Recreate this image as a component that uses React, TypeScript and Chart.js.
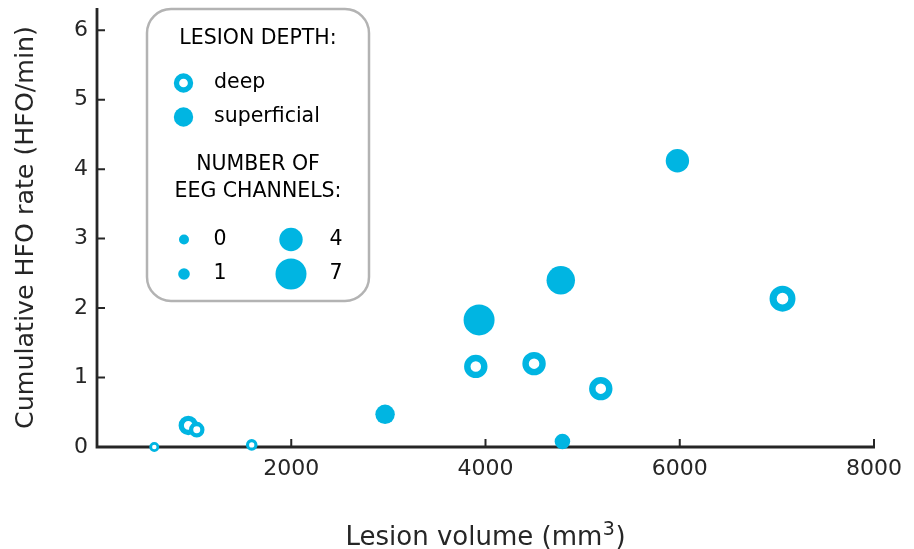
import React, { useEffect, useRef } from 'react';
import { Chart, registerables } from 'chart.js';

Chart.register(...registerables);

// ---- data ----
const lesionVolume = [590, 940, 1027, 1593, 2966, 3900, 3934, 4500, 4775, 4792, 5187, 5976, 7058];
const hfoRate = [0.0, 0.31, 0.25, 0.03, 0.47, 1.16, 1.83, 1.2, 2.4, 0.08, 0.84, 4.12, 2.135];
const eegChannels = [0, 3, 2, 1, 3, 4, 7, 4, 6, 2, 4, 4, 5];
const lesionDepth = [
  'deep', 'deep', 'deep', 'deep', 'superficial', 'deep', 'superficial',
  'deep', 'superficial', 'superficial', 'deep', 'superficial', 'deep',
];
const depthCategories = ['deep', 'superficial'];
const channelLegendValues = [0, 1, 4, 7];
const xTickValues = [2000, 4000, 6000, 8000];
const yTickValues = [0, 1, 2, 3, 4, 5, 6];

const xTitleParts = ['Lesion volume (mm', '3', ')']; // middle part is a superscript
const yTitle = 'Cumulative HFO rate (HFO/min)';
const depthLegendTitle = 'LESION DEPTH:';
const channelLegendTitle = ['NUMBER OF', 'EEG CHANNELS:'];

// ---- style ----
const BLUE = '#00b5e2';
const AXIS = '#262626';
const TEXT = '#000000';
const FONT = "'DejaVu Sans', sans-serif";

const sizeAnchorN = [0, 1, 4, 7];
const sizeAnchorR = [5, 5.8, 11.7, 15.5];
function radiusFor(n: number): number {
  for (let i = 0; i < sizeAnchorN.length - 1; i++) {
    const a = sizeAnchorN[i], b = sizeAnchorN[i + 1];
    if (n <= b) {
      const t = (n - a) / (b - a);
      return sizeAnchorR[i] + t * (sizeAnchorR[i + 1] - sizeAnchorR[i]);
    }
  }
  return sizeAnchorR[sizeAnchorR.length - 1];
}
const RING = 0.55;

function drawMarker(ctx: CanvasRenderingContext2D, x: number, y: number, R: number, deep: boolean) {
  ctx.beginPath();
  if (deep) {
    const bw = RING * R;
    ctx.arc(x, y, R - bw / 2, 0, Math.PI * 2);
    ctx.fillStyle = '#ffffff';
    ctx.fill();
    ctx.lineWidth = bw;
    ctx.strokeStyle = BLUE;
    ctx.stroke();
  } else {
    ctx.arc(x, y, R, 0, Math.PI * 2);
    ctx.fillStyle = BLUE;
    ctx.fill();
  }
}

const axesPlugin = {
  id: 'customAxes',
  beforeDatasetsDraw(chart: any) {
    const { ctx, chartArea, scales } = chart;
    const { left, right, top, bottom } = chartArea;
    ctx.save();
    ctx.strokeStyle = AXIS;
    ctx.lineWidth = 2.8;
    ctx.beginPath();
    ctx.moveTo(left, top);
    ctx.lineTo(left, bottom);
    ctx.lineTo(right + 1, bottom);
    ctx.stroke();
    ctx.lineWidth = 2;
    ctx.beginPath();
    scales.x.ticks.forEach((t: any) => {
      const px = scales.x.getPixelForValue(t.value);
      ctx.moveTo(px, bottom);
      ctx.lineTo(px, bottom - 8);
    });
    scales.y.ticks.forEach((t: any) => {
      const py = scales.y.getPixelForValue(t.value);
      ctx.moveTo(left, py);
      ctx.lineTo(left + 8, py);
    });
    ctx.stroke();

    // x-axis title with a real superscript
    const mainFont = `26px ${FONT}`;
    const supFont = `19px ${FONT}`;
    ctx.fillStyle = AXIS;
    ctx.textBaseline = 'alphabetic';
    ctx.textAlign = 'left';
    ctx.font = mainFont;
    const w0 = ctx.measureText(xTitleParts[0]).width;
    const w2 = ctx.measureText(xTitleParts[2]).width;
    ctx.font = supFont;
    const w1 = ctx.measureText(xTitleParts[1]).width;
    const total = w0 + w1 + 1 + w2;
    const cx = (left + right) / 2;
    let x = cx - total / 2;
    const baseY = 545;
    ctx.font = mainFont;
    ctx.fillText(xTitleParts[0], x, baseY);
    x += w0 + 0.5;
    ctx.font = supFont;
    ctx.fillText(xTitleParts[1], x, baseY - 10);
    x += w1 + 0.5;
    ctx.font = mainFont;
    ctx.fillText(xTitleParts[2], x, baseY);
    ctx.restore();
  },
};

const legendPlugin = {
  id: 'customLegend',
  afterDraw(chart: any) {
    const ctx: CanvasRenderingContext2D = chart.ctx;
    ctx.save();
    // box
    const bx = 147, by = 9, bw = 222, bh = 292, r = 24;
    ctx.beginPath();
    ctx.moveTo(bx + r, by);
    ctx.lineTo(bx + bw - r, by);
    ctx.arcTo(bx + bw, by, bx + bw, by + r, r);
    ctx.lineTo(bx + bw, by + bh - r);
    ctx.arcTo(bx + bw, by + bh, bx + bw - r, by + bh, r);
    ctx.lineTo(bx + r, by + bh);
    ctx.arcTo(bx, by + bh, bx, by + bh - r, r);
    ctx.lineTo(bx, by + r);
    ctx.arcTo(bx, by, bx + r, by, r);
    ctx.closePath();
    ctx.fillStyle = '#ffffff';
    ctx.fill();
    ctx.lineWidth = 2.5;
    ctx.strokeStyle = '#b3b3b3';
    ctx.stroke();

    const cx = bx + bw / 2;
    ctx.fillStyle = TEXT;
    ctx.font = `20.5px ${FONT}`;
    ctx.textBaseline = 'middle';
    ctx.textAlign = 'center';
    ctx.fillText(depthLegendTitle, cx, 39);
    ctx.fillText(channelLegendTitle[0], cx, 165);
    ctx.fillText(channelLegendTitle[1], cx, 192);

    // depth entries
    const depthY = [83, 117];
    depthCategories.forEach((d, i) => {
      drawMarker(ctx, 183.5, depthY[i], 9.7, d === 'deep');
      ctx.fillStyle = TEXT;
      ctx.textAlign = 'left';
      ctx.fillText(d, 214, depthY[i]);
    });

    // channel entries (two columns)
    const colX = [184, 291];
    const labX = [220, 336];
    const rowY = [239.5, 274];
    channelLegendValues.forEach((n, i) => {
      const col = Math.floor(i / 2);
      const row = i % 2;
      drawMarker(ctx, colX[col], rowY[row], radiusFor(n), false);
      ctx.fillStyle = TEXT;
      ctx.textAlign = 'center';
      ctx.fillText(String(n), labX[col], rowY[row]);
    });
    ctx.restore();
  },
};

export default function App() {
  const canvasRef = useRef<HTMLCanvasElement | null>(null);

  useEffect(() => {
    if (!canvasRef.current) return;
    const points = lesionVolume.map((v, i) => ({ x: v, y: hfoRate[i] }));
    const outerR = (i: number) => radiusFor(eegChannels[i]);
    const isDeep = (i: number) => lesionDepth[i] === 'deep';
    const innerRadius = (c: any) => {
      const R = outerR(c.dataIndex);
      return isDeep(c.dataIndex) ? R - (RING * R) / 2 : R;
    };

    const chart = new Chart(canvasRef.current, {
      type: 'scatter',
      data: {
        datasets: [
          {
            data: points,
            clip: false as any,
            pointStyle: 'circle',
            pointRadius: innerRadius,
            pointHoverRadius: innerRadius,
            pointBorderWidth: (c: any) => (isDeep(c.dataIndex) ? RING * outerR(c.dataIndex) : 0),
            pointBackgroundColor: (c: any) => (isDeep(c.dataIndex) ? '#ffffff' : BLUE),
            pointBorderColor: BLUE,
          } as any,
        ],
      },
      options: {
        animation: false,
        responsive: false,
        devicePixelRatio: 1,
        events: [],
        layout: { autoPadding: false, padding: { left: 0, top: 8, right: 40, bottom: 0 } },
        plugins: { legend: { display: false }, tooltip: { enabled: false } },
        scales: {
          x: {
            type: 'linear',
            min: 0,
            max: 8000,
            grid: { display: false, drawTicks: false },
            border: { display: false },
            afterBuildTicks: (s: any) => {
              s.ticks = xTickValues.map((v) => ({ value: v }));
            },
            afterFit: (s: any) => {
              s.height = 102;
              s.paddingLeft = 0;
              s.paddingRight = 0;
            },
            ticks: {
              padding: 9,
              maxRotation: 0,
              autoSkip: false,
              color: AXIS,
              font: { family: FONT, size: 22 },
              callback: (v: any) => String(v),
            },
            title: { display: false },
          },
          y: {
            type: 'linear',
            min: 0,
            max: 6.32,
            grid: { display: false, drawTicks: false },
            border: { display: false },
            afterBuildTicks: (s: any) => {
              s.ticks = yTickValues.map((v) => ({ value: v }));
            },
            afterFit: (s: any) => {
              s.width = 97;
              s.paddingTop = 0;
              s.paddingBottom = 0;
            },
            ticks: {
              padding: 9,
              autoSkip: false,
              color: AXIS,
              font: { family: FONT, size: 22 },
              callback: (v: any) => String(v),
            },
            title: {
              display: true,
              text: yTitle,
              color: AXIS,
              font: { family: FONT, size: 25.3 },
              padding: { top: 11, bottom: 0 },
            },
          },
        },
      } as any,
      plugins: [axesPlugin, legendPlugin],
    });
    return () => chart.destroy();
  }, []);

  return (
    <div style={{ position: 'absolute', left: 0, top: 0, width: 914, height: 549, background: '#ffffff' }}>
      <canvas ref={canvasRef} width={914} height={549} style={{ display: 'block', width: 914, height: 549 }} />
    </div>
  );
}
